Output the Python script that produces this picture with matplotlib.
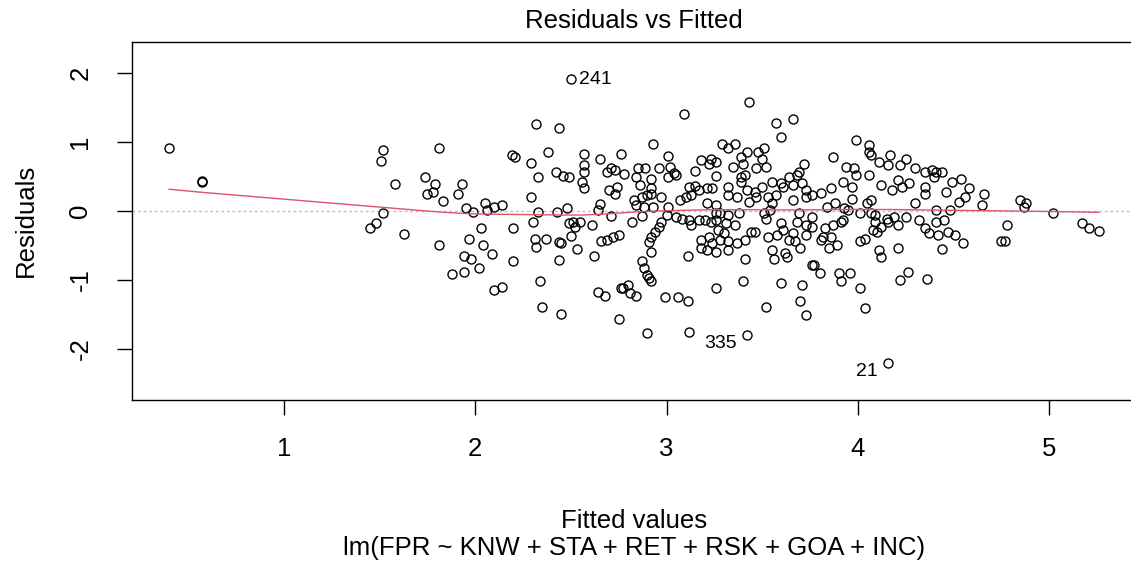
import numpy as np
import matplotlib.pyplot as plt

# Valores ajustados (eje x)
fitted = [
    # x < 2.25
    0.40, 0.57, 0.57, 1.45, 1.48, 1.51, 1.52, 1.52, 1.58, 1.63,
    1.74, 1.79, 1.75, 1.78, 1.81, 1.83, 1.81, 1.88, 1.93, 1.91,
    1.94, 1.94, 1.95, 1.99, 1.97, 1.98, 2.02, 2.03, 2.04, 2.05,
    2.06, 2.09, 2.10, 2.14, 2.10, 2.14, 2.19, 2.21, 2.20, 2.20,
    # 2.25 - 2.8
    2.50, 2.32, 2.44, 2.29, 2.38, 2.33, 2.42, 2.46, 2.49, 2.57,
    2.65, 2.76, 2.57, 2.57, 2.56, 2.57, 2.69, 2.71, 2.73, 2.70,
    2.74, 2.73, 2.29, 2.33, 2.43, 2.48, 2.65, 2.64, 2.71, 2.30,
    2.49, 2.51, 2.55, 2.52, 2.61, 2.31, 2.32, 2.37, 2.44, 2.45,
    2.50, 2.53, 2.66, 2.69, 2.72, 2.75, 2.62, 2.44, 2.34, 2.64,
    2.68, 2.76, 2.35, 2.45, 2.75,
    # 2.8 - 3.26
    3.09, 2.93, 3.01, 2.85, 2.89, 2.96, 3.02, 3.04, 3.01, 3.05,
    3.15, 3.18, 3.23, 3.22, 3.26, 2.78, 2.84, 2.86, 2.92, 2.92,
    2.83, 2.87, 2.90, 2.92, 2.84, 2.88, 2.93, 2.97, 2.82, 2.87,
    3.01, 3.00, 3.05, 3.07, 3.10, 3.12, 3.15, 3.17, 3.13, 3.21,
    3.24, 3.08, 3.12, 3.17, 3.13, 3.20, 3.23, 3.21, 3.26, 2.97,
    2.96, 2.94, 2.92, 2.91, 3.18, 3.18, 3.22, 3.24, 3.21, 3.26,
    2.92, 3.11, 2.87, 2.88, 2.90, 2.92, 2.91, 2.77, 2.80, 2.81,
    2.84, 2.99, 3.06, 3.11, 3.26, 2.90, 3.12,
    # 3.26 - 3.76
    3.43, 3.57, 3.66, 3.60, 3.29, 3.32, 3.36, 3.42, 3.39, 3.48,
    3.51, 3.50, 3.26, 3.35, 3.40, 3.47, 3.52, 3.39, 3.41, 3.39,
    3.32, 3.32, 3.37, 3.42, 3.46, 3.47, 3.50, 3.55, 3.60, 3.61,
    3.64, 3.66, 3.68, 3.69, 3.72, 3.71, 3.73, 3.73, 3.43, 3.53,
    3.57, 3.55, 3.66, 3.26, 3.28, 3.32, 3.38, 3.26, 3.31, 3.36,
    3.51, 3.52, 3.54, 3.60, 3.69, 3.68, 3.73, 3.27, 3.30, 3.28,
    3.32, 3.37, 3.41, 3.44, 3.46, 3.53, 3.58, 3.61, 3.66, 3.64,
    3.67, 3.70, 3.73, 3.32, 3.41, 3.55, 3.56, 3.62, 3.63, 3.76,
    3.40, 3.60, 3.71, 3.52, 3.70, 3.73, 3.42,
    # 3.76 - 4.26
    3.99, 4.06, 4.06, 4.07, 3.87, 3.94, 3.98, 3.99, 4.06, 4.11,
    4.17, 4.16, 4.22, 4.25, 3.92, 3.97, 4.12, 4.18, 4.21, 4.23,
    3.86, 3.81, 3.76, 3.88, 3.97, 4.05, 4.07, 3.84, 3.93, 3.95,
    4.01, 4.07, 4.09, 3.76, 3.92, 4.15, 4.16, 4.19, 4.21, 3.76,
    3.87, 3.91, 4.09, 4.12, 3.83, 3.82, 3.86, 3.81, 3.85, 3.89,
    4.08, 4.10, 4.01, 4.04, 4.11, 4.12, 4.21, 3.77, 3.80, 3.90,
    3.91, 3.96, 4.01, 4.04, 4.22, 4.26, 4.16,
    # x > 4.26
    4.30, 4.35, 4.39, 4.41, 4.44, 4.40, 4.27, 4.35, 4.35, 4.46,
    4.49, 4.54, 4.58, 4.56, 4.53, 4.66, 4.65, 4.30, 4.25, 4.41,
    4.48, 4.45, 4.41, 4.32, 4.35, 4.37, 4.42, 4.47, 4.51, 4.55,
    4.44, 4.78, 4.75, 4.77, 4.36, 4.85, 4.88, 4.87, 5.02, 5.17,
    5.21, 5.26,
]

# Residuos (eje y), en el mismo orden
residuals = [
    0.92, 0.42, 0.43, -0.24, -0.17, 0.73, 0.88, -0.03, 0.39, -0.33,
    0.50, 0.39, 0.25, 0.28, 0.92, 0.15, -0.50, -0.91, 0.39, 0.25,
    -0.65, -0.89, 0.04, -0.01, -0.41, -0.70, -0.82, -0.24, -0.50, 0.11,
    0.01, -0.62, 0.06, 0.09, -1.14, -1.10, 0.81, 0.79, -0.24, -0.73,
    1.92, 1.26, 1.21, 0.70, 0.85, 0.50, 0.56, 0.51, 0.50, 0.83,
    0.76, 0.83, 0.66, 0.57, 0.42, 0.34, 0.56, 0.63, 0.59, 0.30,
    0.35, 0.25, 0.21, -0.01, -0.01, 0.04, 0.10, 0.01, -0.07, -0.16,
    -0.18, -0.16, -0.16, -0.23, -0.20, -0.41, -0.52, -0.41, -0.45, -0.46,
    -0.36, -0.55, -0.44, -0.42, -0.37, -0.35, -0.65, -0.71, -1.02, -1.18,
    -1.23, -1.12, -1.39, -1.49, -1.56,
    1.41, 0.97, 0.80, 0.63, 0.62, 0.62, 0.64, 0.55, 0.50, 0.52,
    0.58, 0.74, 0.76, 0.68, 0.51, 0.54, 0.50, 0.37, 0.46, 0.34,
    0.16, 0.21, 0.23, 0.25, 0.08, 0.06, 0.06, 0.20, -0.16, -0.07,
    0.06, -0.06, -0.08, 0.16, 0.21, 0.35, 0.36, 0.30, 0.23, 0.34,
    0.34, -0.11, -0.13, -0.13, -0.20, -0.13, -0.16, 0.11, -0.03, -0.16,
    -0.23, -0.30, -0.38, -0.45, -0.42, -0.54, -0.37, -0.47, -0.57, -0.59,
    -0.60, -0.65, -0.72, -0.83, -0.93, -1.02, -0.97, -1.11, -1.07, -1.19,
    -1.23, -1.25, -1.25, -1.31, -1.11, -1.77, -1.75,
    1.58, 1.27, 1.33, 1.07, 0.97, 0.92, 0.97, 0.85, 0.78, 0.85,
    0.91, 0.75, 0.71, 0.64, 0.68, 0.62, 0.64, 0.50, 0.52, 0.42,
    0.35, 0.23, 0.21, 0.30, 0.28, 0.21, 0.35, 0.42, 0.40, 0.35,
    0.50, 0.38, 0.52, 0.57, 0.68, 0.40, 0.30, 0.21, 0.13, 0.21,
    0.23, 0.11, 0.16, 0.09, -0.03, -0.06, -0.03, -0.13, -0.18, -0.20,
    -0.03, -0.11, 0.01, -0.18, -0.03, -0.16, -0.20, -0.28, -0.32, -0.42,
    -0.44, -0.47, -0.42, -0.30, -0.30, -0.38, -0.35, -0.28, -0.32, -0.42,
    -0.44, -0.54, -0.35, -0.57, -0.69, -0.57, -0.69, -0.61, -0.66, -0.78,
    -1.02, -1.05, -1.07, -1.39, -1.31, -1.51, -1.80,
    1.03, 0.96, 0.86, 0.81, 0.79, 0.64, 0.62, 0.52, 0.52, 0.71,
    0.81, 0.67, 0.67, 0.76, 0.42, 0.35, 0.38, 0.30, 0.45, 0.35,
    0.33, 0.26, 0.23, 0.11, 0.18, 0.11, 0.16, 0.06, 0.04, 0.01,
    -0.03, -0.03, -0.06, -0.08, -0.13, -0.11, -0.16, -0.08, -0.20, -0.23,
    -0.20, -0.16, -0.16, -0.23, -0.25, -0.37, -0.37, -0.42, -0.54, -0.49,
    -0.28, -0.30, -0.44, -0.40, -0.57, -0.66, -0.54, -0.78, -0.90, -0.90,
    -1.02, -0.90, -1.12, -1.41, -1.00, -0.88, -2.21,
    0.62, 0.57, 0.59, 0.57, 0.57, 0.50, 0.40, 0.35, 0.25, 0.27,
    0.42, 0.47, 0.33, 0.20, 0.13, 0.25, 0.08, 0.11, -0.08, 0.01,
    0.01, -0.13, -0.16, -0.13, -0.25, -0.32, -0.35, -0.31, -0.35, -0.47,
    -0.55, -0.20, -0.43, -0.44, -0.99, 0.16, 0.11, 0.06, -0.03, -0.17,
    -0.24, -0.29,
]

# Observaciones etiquetadas
id_labels = ['241', '335', '21']
id_fitted = [2.50, 3.42, 4.16]
id_resid = [1.92, -1.80, -2.21]


# Suavizado lowess (como el panel.smooth de R)
def lowess(x, y, f=2/3, iters=3):
    orden = np.argsort(x)
    x = np.asarray(x, float)[orden]
    y = np.asarray(y, float)[orden]
    n = len(x)
    r = int(np.ceil(f * n))
    yest = np.zeros(n)
    delta = np.ones(n)
    for it in range(iters + 1):
        for i in range(n):
            d = np.abs(x - x[i])
            h = np.sort(d)[r - 1]
            u = np.clip(d / max(h, 1e-12), 0, 1)
            w = (1 - u**3)**3 * delta
            sw = w.sum()
            xm = (w * x).sum() / sw
            ym = (w * y).sum() / sw
            sxx = (w * (x - xm)**2).sum()
            b = (w * (x - xm) * (y - ym)).sum() / sxx if sxx > 0 else 0
            yest[i] = ym + b * (x[i] - xm)
        res = y - yest
        s = np.median(np.abs(res))
        u = np.clip(res / (6 * s), -1, 1)
        delta = (1 - u**2)**2
    return x, yest


plt.rcParams['font.family'] = ['Liberation Sans', 'DejaVu Sans']
plt.rcParams['axes.unicode_minus'] = False

W, H = 1131, 563
fig = plt.figure(figsize=(W / 100, H / 100), dpi=100)
ax = fig.add_axes([132 / W, 163 / H, 1004 / W, 358 / H])

ax.axhline(0, color='#BEBEBE', lw=1, ls=(0, (2, 2)))
ax.plot(fitted, residuals, 'o', mfc='none', mec='black', ms=6.5, mew=1.0)
xs, ys = lowess(fitted, residuals)
ax.plot(xs, ys, color='#DF536B', lw=1)

for lab, fx, ry in zip(id_labels, id_fitted, id_resid):
    if fx < 2.83:
        ax.annotate(lab, (fx, ry), xytext=(6, -1), textcoords='offset points',
                    ha='left', va='center', fontsize=14)
    else:
        ax.annotate(lab, (fx, ry), xytext=(-7.5, -6), textcoords='offset points',
                    ha='right', va='center', fontsize=14)

ax.set_xlim(0.206, 5.454)
ax.set_ylim(-2.74, 2.45)
ax.set_xticks([1, 2, 3, 4, 5])
ax.set_yticks([-2, -1, 0, 1, 2])
ax.tick_params(direction='out', length=10.5, width=1, labelsize=18.5, pad=16)
ax.tick_params(axis='y', labelrotation=90, pad=18)
for t in ax.get_yticklabels():
    t.set_va('center')
for sp in ax.spines.values():
    sp.set_linewidth(1)

cx = (132 + 1136) / 2 / W
fig.text(cx, 1 - 28.3 / H, 'Residuals vs Fitted', ha='center', va='baseline', fontsize=18.5)
fig.text(cx, 1 - 527.5 / H, 'Fitted values', ha='center', va='baseline', fontsize=18.5)
fig.text(cx, 1 - 555 / H, 'lm(FPR ~ KNW + STA + RET + RSK + GOA + INC)',
         ha='center', va='baseline', fontsize=18.5)
fig.text(33 / W, 1 - 220 / H, 'Residuals', rotation=90, rotation_mode='anchor',
         ha='center', va='baseline', fontsize=18.5)

plt.savefig('out.png', dpi=100)
plt.close()
